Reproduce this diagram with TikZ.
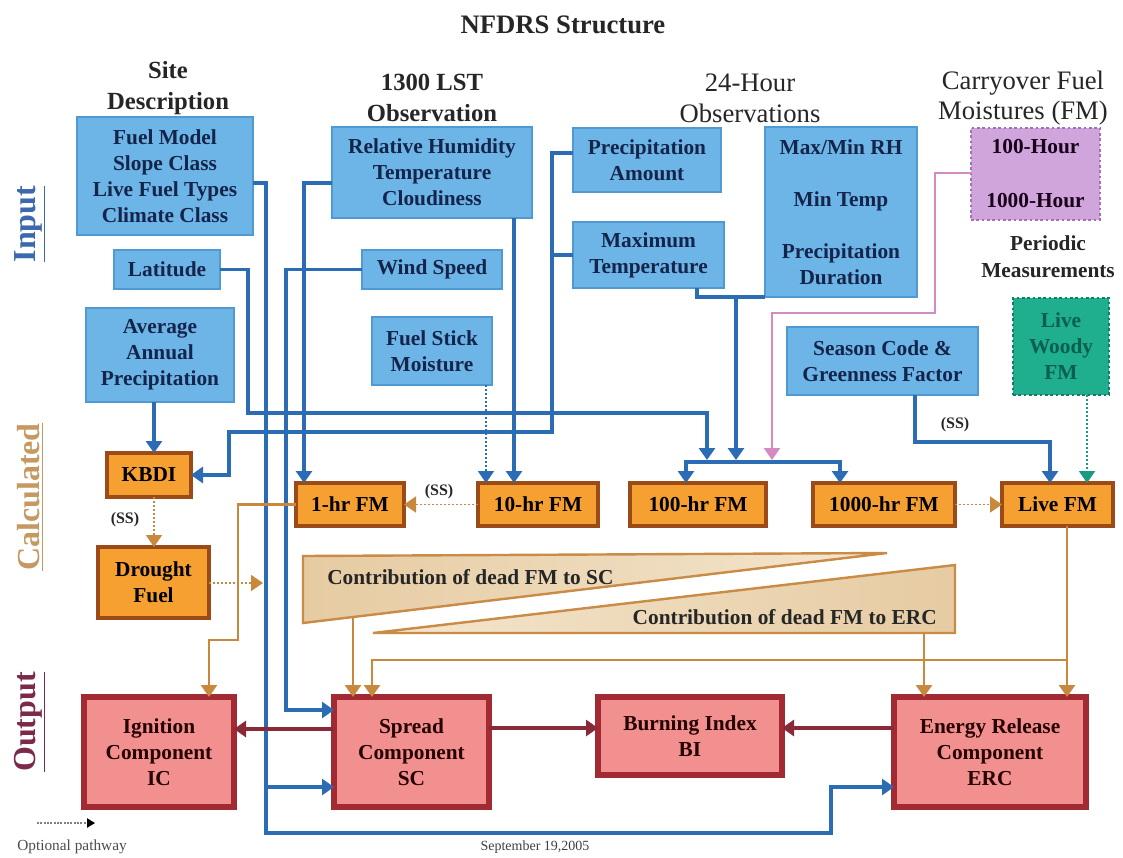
\documentclass[tikz,border=0pt]{standalone}
\usepackage{fontspec}
\setmainfont{Liberation Serif}
\usetikzlibrary{arrows.meta,shadows}
\definecolor{bline}{HTML}{2B6CB5}
\definecolor{bfill}{HTML}{6DB5E7}
\definecolor{bborder}{HTML}{4F9AD3}
\definecolor{btext}{HTML}{14244A}
\definecolor{orfill}{HTML}{F5A031}
\definecolor{orborder}{HTML}{9A4B17}
\definecolor{redfill}{HTML}{F28F8F}
\definecolor{redborder}{HTML}{A12A33}
\definecolor{tanline}{HTML}{C8893F}
\definecolor{tanborder}{HTML}{C98B45}
\definecolor{tanA}{HTML}{E6CBA2}
\definecolor{tanB}{HTML}{F4E6CF}
\definecolor{maroon}{HTML}{8A2A38}
\definecolor{pinkline}{HTML}{D48AC2}
\definecolor{greenline}{HTML}{1A9A80}
\definecolor{tealfill}{HTML}{1FAE8E}
\definecolor{tealborder}{HTML}{0F7F66}
\definecolor{tealtext}{HTML}{0C5E4E}
\definecolor{lilacfill}{HTML}{CFA5DC}
\definecolor{lilacborder}{HTML}{A070B8}
\definecolor{inputc}{HTML}{3D68AE}
\definecolor{calcc}{HTML}{C49A62}
\definecolor{outc}{HTML}{7B2A4C}
\newcommand\bxfont{\fontsize{16}{19.5}\selectfont\bfseries}
\newcommand\hdrB{\fontsize{18.5}{23}\selectfont\bfseries}
\newcommand\hdrR{\fontsize{20}{23}\selectfont}
\newcommand\mkbox[7]{\node[#1,minimum width={(#4-(#2))*0.75pt},minimum height={(#5-(#3))*0.75pt}] (#6) at ({((#2)+(#4))/2},{((#3)+(#5))/2}) {#7};}
\begin{document}
\begin{tikzpicture}[x=0.75pt,y=-0.75pt,
 bx/.style={align=center,inner sep=0pt,outer sep=0pt,font=\bxfont},
 bluebox/.style={bx,draw=bborder,line width=0.8pt,fill=bfill,text=btext},
 orbox/.style={bx,draw=orborder,line width=3.2pt,fill=orfill,text=black},
 redbox/.style={bx,draw=redborder,line width=3.8pt,fill=redfill,text=black!85!red,drop shadow={shadow xshift=1.2pt,shadow yshift=-2pt,fill=redborder!70!black,opacity=0.7}},
 lilacbox/.style={bx,draw=lilacborder,line width=1.4pt,dash pattern=on 2pt off 2pt,fill=lilacfill,text=black!80!violet},
 tealbox/.style={bx,draw=tealborder,line width=1.4pt,dash pattern=on 2pt off 2pt,fill=tealfill,text=tealtext},
 hdr/.style={align=center,inner sep=0pt,text=black!85},
 tip/.style={-{Triangle[width=12pt,length=9pt]}},
 bl/.style={draw=bline,line width=2.6pt},
 bla/.style={bl,tip},
 bld/.style={draw=bline,line width=1.4pt,dash pattern=on 1.6pt off 1.4pt,tip},
 tn/.style={draw=tanline,line width=2pt},
 tna/.style={tn,tip},
 tnd/.style={draw=tanline,line width=1.4pt,dash pattern=on 1.6pt off 1.4pt,tip},
 mra/.style={draw=maroon,line width=2.6pt,tip},
 pka/.style={draw=pinkline,line width=1.8pt,tip},
 gnd/.style={draw=greenline,line width=1.4pt,dash pattern=on 1.6pt off 1.4pt,tip},
 ss/.style={font=\fontsize{12}{14}\selectfont\bfseries,inner sep=0pt,text=black!85},
 side/.style={rotate=90,font=\fontsize{24}{28}\selectfont\bfseries,inner sep=0pt},
 wedge/.style={draw=tanborder,line width=1.8pt},
]
\useasboundingbox[fill=white] (0,0) rectangle (1123,857);

% title and headers
\node[font=\fontsize{20}{24}\selectfont\bfseries,text=black!85] (title) at (563,25) {NFDRS Structure};
\node[hdr,font=\hdrB] (hsite) at (168,88) {Site\\Description};
\node[hdr,font=\hdrB] (hlst) at (432,98) {1300 LST\\Observation};
\node[hdr,font=\hdrR] (h24) at (750,98) {24-Hour\\Observations};
\node[hdr,font=\hdrR] (hcarry) at (1023,98) {Carryover Fuel\\Moistures (FM)};
\node[hdr,font=\fontsize{16}{20}\selectfont\bfseries] (hper) at (1048,257) {Periodic\\Measurements};

% side labels
\node[side,text=inputc] (linput) at (30,224) {\underline{Input}};
\node[side,text=calcc] (lcalc) at (30,497) {\underline{Calculated}};
\node[side,text=outc] (lout) at (30,722) {\underline{Output}};

% input boxes
\mkbox{bluebox}{77}{117}{253}{235}{site}{Fuel Model\\Slope Class\\Live Fuel Types\\Climate Class}
\mkbox{bluebox}{332}{127}{532}{218}{rh}{Relative Humidity\\Temperature\\Cloudiness}
\mkbox{bluebox}{114}{250}{220}{289}{lat}{Latitude}
\mkbox{bluebox}{362}{250}{502}{289}{wind}{Wind Speed}
\mkbox{bluebox}{372}{317}{492}{385}{fsm}{Fuel Stick\\Moisture}
\mkbox{bluebox}{86}{308}{234}{402}{aap}{Average\\Annual\\Precipitation}
\mkbox{bluebox}{573}{128}{721}{192}{pa}{Precipitation\\Amount}
\mkbox{bluebox}{573}{222}{724}{288}{mt}{Maximum\\Temperature}
\mkbox{bluebox}{765}{127}{917}{297}{mm}{Max/Min RH\\[19.5pt]Min Temp\\[19.5pt]Precipitation\\Duration}
\mkbox{bluebox}{787}{327}{978}{395}{scg}{Season Code \&\\Greenness Factor}
\mkbox{lilacbox}{971}{128}{1100}{220}{hr100}{100-Hour\\[21pt]1000-Hour}
\mkbox{tealbox}{1013}{298}{1109}{395}{lwfm}{Live\\Woody\\FM}

% calculated boxes
\mkbox{orbox}{107}{453}{191}{497}{kbdi}{KBDI}
\mkbox{orbox}{98}{547}{209}{618}{drought}{Drought\\Fuel}
\mkbox{orbox}{296}{483}{404}{526}{h1}{1-hr FM}
\mkbox{orbox}{478}{483}{598}{526}{h10}{10-hr FM}
\mkbox{orbox}{630}{483}{766}{526}{h100}{100-hr FM}
\mkbox{orbox}{813}{483}{955}{526}{h1000}{1000-hr FM}
\mkbox{orbox}{1002}{483}{1113}{526}{live}{Live FM}

% wedges
\path[wedge,left color=tanA,right color=tanB] (303,556) -- (887,553) -- (303,623) -- cycle;
\path[wedge,left color=tanB,right color=tanA] (373,633) -- (955,565) -- (955,633) -- cycle;
\node[anchor=west,font=\bxfont,inner sep=0pt,text=black!85] (tsc) at (327,577) {Contribution of dead FM to SC};
\node[anchor=east,font=\bxfont,inner sep=0pt,text=black!85] (terc) at (937,617) {Contribution of dead FM to ERC};
\coordinate (wsc) at (353,617);
\coordinate (werc) at (924,633);

% output boxes
\mkbox{redbox}{84}{697}{234}{807}{ic}{Ignition\\Component\\IC}
\mkbox{redbox}{334}{697}{489}{807}{spc}{Spread\\Component\\SC}
\mkbox{redbox}{598}{697}{782}{775}{bi}{Burning Index\\BI}
\mkbox{redbox}{894}{697}{1086}{807}{erc}{Energy Release\\Component\\ERC}

% junction coordinates
\coordinate (jsite) at (266,787);
\coordinate (jtemp) at (736,297);
\coordinate (jlive) at (1067,660);

% blue connectors
\draw[bla] (site.east |- 0,183) -| (jsite) -- (spc.west |- jsite);
\draw[bla] (jsite) |- (831,833) |- (erc.west |- jsite);
\draw[bla] (wind.west) -| (286,710) -- (spc.west |- 0,710);
\draw[bla] (lat.east) -| (248,413) -| (707,460);
\draw[bla] (rh.west |- 0,183) -| (h1.north -| 304,0);
\draw[bla] (rh.south -| 514,0) -- (h10.north -| 514,0);
\draw[bld] (fsm.south -| 486,0) -- (h10.north -| 486,0);
\draw[bla] (pa.west |- 0,153) -| (552,432) -| (229,475) -- (kbdi.east);
\draw[bl] (mt.west) -- (mt.west -| 552,0);
\draw[bl] (mt.south -| 697,0) |- (mm.south west);
\draw[bla] (jtemp) -- (736,460);
\draw[bl,{Triangle[width=12pt,length=9pt]}-{Triangle[width=12pt,length=9pt]}] (h100.north -| 686,0) -- (686,462) -- (840,462) -- (h1000.north -| 840,0);
\draw[bla] (aap.south -| 154,0) -- (kbdi.north -| 154,0);
\draw[bla] (scg.south -| 915,0) |- (1050,442) -- (live.north -| 1050,0);
\node[ss] (ss3) at (955,425) {(SS)};
\draw[pka] (hr100.west |- 0,173) -| (935,313) -| (772,460);
\draw[gnd] (lwfm.south -| 1087,0) -- (live.north -| 1087,0);

% tan connectors
\draw[tnd] (h10.west) -- (h1.east);
\node[ss] (ss1) at (439,492) {(SS)};
\draw[tnd] (h1000.east) -- (live.west);
\draw[tnd] (kbdi.south -| 154,0) -- (drought.north -| 154,0);
\node[ss] (ss2) at (125,520) {(SS)};
\coordinate (dtip) at (263,583);
\draw[tnd] (drought.east |- dtip) -- (dtip);
\draw[tna] (h1.west) -| (238,640) -| (ic.north -| 209,0);
\draw[tna] (wsc) -- (spc.north -| wsc);
\draw[tna] (werc) -- (erc.north -| werc);
\draw[tna] (live.south -| jlive) -- (erc.north -| jlive);
\draw[tna] (jlive) -| (spc.north -| 372,0);

% maroon connectors
\draw[mra] (spc.west |- 0,729) -- (ic.east |- 0,729);
\draw[mra] (spc.east |- 0,728) -- (bi.west |- 0,728);
\draw[mra] (erc.west |- 0,728) -- (bi.east |- 0,728);

% legend and date
\coordinate (lega) at (37,823);
\coordinate (legb) at (95,823);
\draw[draw=gray,line width=1pt,dash pattern=on 1.5pt off 1pt,-{Triangle[width=7pt,length=6pt,black]}] (lega) -- (legb);
\node[font=\fontsize{11.5}{13}\selectfont,text=black!70,inner sep=0pt] (legt) at (72,847) {Optional pathway};
\node[font=\fontsize{10.5}{12}\selectfont,text=black!75,inner sep=0pt] (date) at (535,847) {September 19,2005};
\end{tikzpicture}
\end{document}
